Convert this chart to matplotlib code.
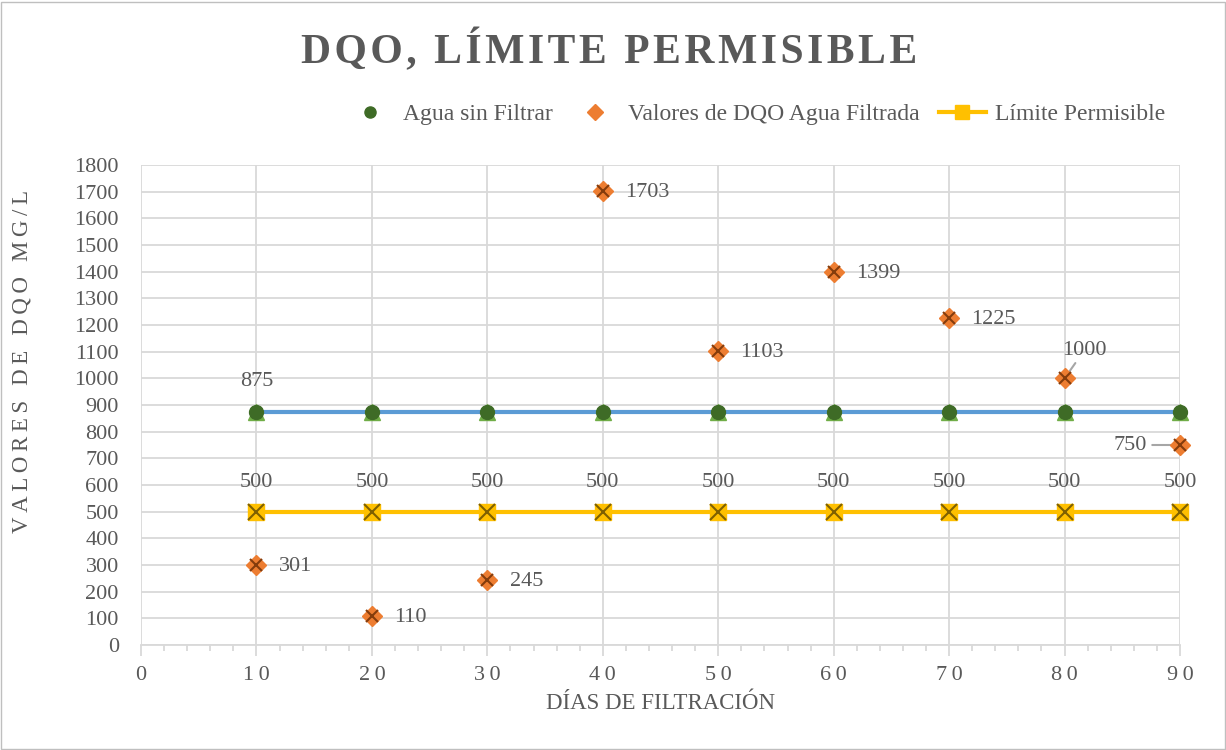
import numpy as np
import matplotlib.pyplot as plt

plt.rcParams['font.family'] = ['Liberation Serif', 'DejaVu Serif']

# data
dias = [10, 20, 30, 40, 50, 60, 70, 80, 90]
sin_filtrar = [875, 875, 875, 875, 875, 875, 875, 875, 875]
filtrada = [301, 110, 245, 1703, 1103, 1399, 1225, 1000, 750]
limite = [500, 500, 500, 500, 500, 500, 500, 500, 500]
x_ticks = list(range(0, 91, 10))

txt = '#595959'
grid_c = '#d9d9d9'
HS = '\u200a'  # hair space, to imitate the letter spacing


def spaced(s, sep=HS):
    return sep.join(s)


fig = plt.figure(figsize=(12.26, 7.5), dpi=100)
ax = fig.add_axes([0.115, 0.14, 0.8475, 0.64])

# blue line with green triangles (not in legend)
ax.plot(dias, sin_filtrar, color='#5b9bd5', lw=3, marker='^', ms=11,
        markerfacecolor='#70ad47', markeredgecolor='#70ad47', zorder=3,
        label='_nolegend_', clip_on=False)
ax.plot(dias, sin_filtrar, ls='none', marker='o', ms=10, color='#3e6b26',
        zorder=4, label='Agua sin Filtrar', clip_on=False)

ax.plot(dias, filtrada, ls='none', marker='D', ms=10, color='#ed7d31',
        zorder=5, label='Valores de DQO Agua Filtrada', clip_on=False)
ax.plot(dias, filtrada, ls='none', marker='x', ms=9, mew=1.5, color='#843c0c',
        zorder=6, label='_nolegend_', clip_on=False)

ax.plot(dias, limite, color='#ffc000', lw=3, marker='s', ms=12,
        markerfacecolor='#ffc000', markeredgecolor='#ffc000', zorder=4,
        label='Límite Permisible', clip_on=False)
ax.plot(dias, limite, ls='none', marker='x', ms=11, mew=1.5, color='#7f6000',
        zorder=5, label='_nolegend_', clip_on=False)

# data labels
fs = 16
ax.annotate(str(sin_filtrar[0]), (dias[0], sin_filtrar[0]), xytext=(0, 15),
            textcoords='offset points', ha='center', va='bottom', color=txt, fontsize=fs)
for x, y in zip(dias, limite):
    ax.annotate(str(y), (x, y), xytext=(0, 14), textcoords='offset points',
                ha='center', va='bottom', color=txt, fontsize=fs)
for x, y in zip(dias[:7], filtrada[:7]):
    ax.annotate(str(y), (x, y), xytext=(16, -1), textcoords='offset points',
                ha='left', va='center', color=txt, fontsize=fs)
ax.annotate(str(filtrada[7]), (dias[7], filtrada[7]), xytext=(14, 13),
            textcoords='offset points', ha='center', va='bottom', color=txt, fontsize=fs,
            arrowprops=dict(arrowstyle='-', color='#a6a6a6', lw=1.5, shrinkA=0, shrinkB=2))
ax.annotate(str(filtrada[8]), (dias[8], filtrada[8]), xytext=(-24, 0),
            textcoords='offset points', ha='right', va='center', color=txt, fontsize=fs,
            arrowprops=dict(arrowstyle='-', color='#a6a6a6', lw=1.5, shrinkA=2, shrinkB=2))

ax.set_xlim(0, 90)
ax.set_ylim(0, 1800)
ax.set_xticks(x_ticks)
ax.set_xticklabels([spaced(str(t), '\u2009') for t in x_ticks])
ax.set_xticks(np.arange(0, 91, 2), minor=True)
ax.set_yticks(np.arange(0, 1801, 100))
ax.grid(True, color=grid_c, lw=1.3)
ax.set_axisbelow(True)
for s in ['left', 'right', 'top']:
    ax.spines[s].set_visible(False)
ax.spines['bottom'].set_color(grid_c)
ax.spines['bottom'].set_linewidth(1.3)
ax.tick_params(axis='x', which='major', direction='out', length=8, color=grid_c,
               width=1.3, labelsize=16, labelcolor=txt, pad=7)
ax.tick_params(axis='x', which='minor', direction='out', length=4, color=grid_c, width=1.3)
ax.tick_params(axis='y', length=0, labelsize=16, labelcolor=txt, pad=16)

ax.set_xlabel('DÍAS DE FILTRACIÓN', color=txt, fontsize=16.5, labelpad=6)
ax.set_ylabel(spaced('VALORES DE DQO MG/L', '\u2009'), color=txt, fontsize=16.5)
ax.yaxis.set_label_coords(-0.104, 0.59)

fig.text(0.497, 0.933, spaced('DQO, LÍMITE PERMISIBLE'), ha='center', va='center',
         fontsize=30, fontweight='bold', color=txt)

leg = fig.legend(loc='center right', bbox_to_anchor=(0.968, 0.848), ncol=3, frameon=False,
                 fontsize=17, labelcolor=txt, handlelength=2.0, columnspacing=0.8,
                 handletextpad=0.4, markerscale=0.8)

# figure border
fig.patches.append(plt.Rectangle((0.001, 0.001), 0.998, 0.997, transform=fig.transFigure,
                                 fill=False, edgecolor='#bfbfbf', lw=1))

fig.savefig('out.png', dpi=100)
